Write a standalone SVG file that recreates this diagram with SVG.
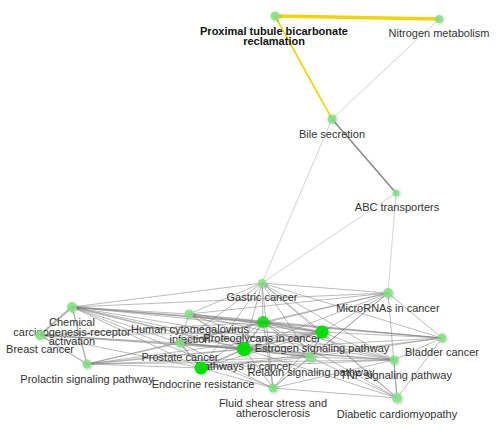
<svg xmlns="http://www.w3.org/2000/svg" width="501" height="437" viewBox="0 0 501 437">
<style>
text{font-family:"Liberation Sans",Arial,sans-serif;font-size:11px;fill:#333;text-anchor:middle}
.b{font-weight:bold;fill:#111}
.e{stroke:#808080;stroke-opacity:.6;fill:none}
.e1{stroke-width:.9}
.e2{stroke-width:1.4}
.e3{stroke-width:2.1}
.lt{stroke:#d4d4d4;stroke-width:1;fill:none}
.y{stroke:#f2d400;fill:none}
.n{fill:#7fe37f;fill-opacity:.85;filter:url(#g)}
.s{fill:#00e000;filter:url(#g)}
</style>
<defs>
<filter id="g" x="-1" y="-1" width="3" height="3"><feGaussianBlur in="SourceAlpha" stdDeviation="1.5"/><feOffset dx="1" dy="1"/><feComponentTransfer><feFuncA type="linear" slope="0.25"/></feComponentTransfer><feMerge><feMergeNode/><feMergeNode in="SourceGraphic"/></feMerge></filter>
</defs>
<rect width="501" height="437" fill="#fff"/>
<g id="connectors">
<line class="y" x1="275" y1="16" x2="439" y2="19" stroke-width="3.5"/>
<line class="y" x1="275" y1="16" x2="332" y2="119" stroke-width="1.6"/>
<line class="lt" x1="439" y1="19" x2="332" y2="119"/>
<line x1="332" y1="119" x2="396" y2="193" stroke="#8c8c8c" stroke-width="1.6"/>
<line class="lt" x1="332" y1="119" x2="262" y2="283"/>
<line class="lt" x1="396" y1="193" x2="262" y2="283"/>
<line class="lt" x1="396" y1="193" x2="388" y2="293"/>
<g class="e e1">
<line x1="262" y1="283" x2="388" y2="293"/>
<line x1="262" y1="283" x2="72" y2="307"/>
<line x1="262" y1="283" x2="189" y2="314"/>
<line x1="262" y1="283" x2="263" y2="322"/>
<line x1="262" y1="283" x2="322" y2="332"/>
<line x1="262" y1="283" x2="244" y2="349"/>
<line x1="262" y1="283" x2="201" y2="368"/>
<line x1="262" y1="283" x2="180" y2="343"/>
<line x1="262" y1="283" x2="442" y2="338"/>
<line x1="262" y1="283" x2="310" y2="357"/>
<line x1="262" y1="283" x2="273" y2="388"/>
<line x1="262" y1="283" x2="394" y2="360"/>
<line x1="262" y1="283" x2="397" y2="398"/>
<line x1="388" y1="293" x2="72" y2="307"/>
<line x1="388" y1="293" x2="263" y2="322"/>
<line x1="388" y1="293" x2="322" y2="332"/>
<line x1="388" y1="293" x2="244" y2="349"/>
<line x1="388" y1="293" x2="442" y2="338"/>
<line x1="388" y1="293" x2="397" y2="398"/>
<line x1="388" y1="293" x2="310" y2="357"/>
<line x1="388" y1="293" x2="180" y2="343"/>
<line x1="388" y1="293" x2="273" y2="388"/>
<line x1="388" y1="293" x2="189" y2="314"/>
<line x1="72" y1="307" x2="189" y2="314"/>
<line x1="72" y1="307" x2="322" y2="332"/>
<line x1="72" y1="307" x2="201" y2="368"/>
<line x1="72" y1="307" x2="180" y2="343"/>
<line x1="72" y1="307" x2="442" y2="338"/>
<line x1="72" y1="307" x2="310" y2="357"/>
<line x1="72" y1="307" x2="394" y2="360"/>
<line x1="72" y1="307" x2="273" y2="388"/>
<line x1="40" y1="335" x2="263" y2="322"/>
<line x1="40" y1="335" x2="322" y2="332"/>
<line x1="40" y1="335" x2="201" y2="368"/>
<line x1="40" y1="335" x2="180" y2="343"/>
<line x1="87" y1="364" x2="322" y2="332"/>
<line x1="87" y1="364" x2="201" y2="368"/>
<line x1="87" y1="364" x2="180" y2="343"/>
<line x1="87" y1="364" x2="263" y2="322"/>
<line x1="87" y1="364" x2="310" y2="357"/>
<line x1="87" y1="364" x2="394" y2="360"/>
<line x1="189" y1="314" x2="263" y2="322"/>
<line x1="189" y1="314" x2="322" y2="332"/>
<line x1="189" y1="314" x2="180" y2="343"/>
<line x1="189" y1="314" x2="310" y2="357"/>
<line x1="189" y1="314" x2="394" y2="360"/>
<line x1="189" y1="314" x2="442" y2="338"/>
<line x1="180" y1="343" x2="263" y2="322"/>
<line x1="180" y1="343" x2="322" y2="332"/>
<line x1="180" y1="343" x2="310" y2="357"/>
<line x1="180" y1="343" x2="273" y2="388"/>
<line x1="180" y1="343" x2="394" y2="360"/>
<line x1="263" y1="322" x2="442" y2="338"/>
<line x1="263" y1="322" x2="310" y2="357"/>
<line x1="263" y1="322" x2="394" y2="360"/>
<line x1="263" y1="322" x2="273" y2="388"/>
<line x1="263" y1="322" x2="397" y2="398"/>
<line x1="263" y1="322" x2="201" y2="368"/>
<line x1="322" y1="332" x2="442" y2="338"/>
<line x1="322" y1="332" x2="394" y2="360"/>
<line x1="322" y1="332" x2="273" y2="388"/>
<line x1="322" y1="332" x2="397" y2="398"/>
<line x1="322" y1="332" x2="201" y2="368"/>
<line x1="244" y1="349" x2="442" y2="338"/>
<line x1="244" y1="349" x2="394" y2="360"/>
<line x1="244" y1="349" x2="273" y2="388"/>
<line x1="244" y1="349" x2="397" y2="398"/>
<line x1="201" y1="368" x2="310" y2="357"/>
<line x1="201" y1="368" x2="273" y2="388"/>
<line x1="201" y1="368" x2="442" y2="338"/>
<line x1="201" y1="368" x2="394" y2="360"/>
<line x1="310" y1="357" x2="273" y2="388"/>
<line x1="310" y1="357" x2="397" y2="398"/>
<line x1="310" y1="357" x2="394" y2="360"/>
<line x1="310" y1="357" x2="442" y2="338"/>
<line x1="442" y1="338" x2="394" y2="360"/>
<line x1="442" y1="338" x2="397" y2="398"/>
<line x1="394" y1="360" x2="397" y2="398"/>
<line x1="394" y1="360" x2="273" y2="388"/>
<line x1="273" y1="388" x2="397" y2="398"/>
</g>
<g class="e e2">
<line x1="72" y1="307" x2="263" y2="322"/>
<line x1="72" y1="307" x2="244" y2="349"/>
<line x1="72" y1="307" x2="87" y2="364"/>
<line x1="40" y1="335" x2="244" y2="349"/>
<line x1="40" y1="335" x2="87" y2="364"/>
<line x1="87" y1="364" x2="244" y2="349"/>
<line x1="189" y1="314" x2="244" y2="349"/>
<line x1="180" y1="343" x2="244" y2="349"/>
<line x1="180" y1="343" x2="201" y2="368"/>
<line x1="263" y1="322" x2="244" y2="349"/>
<line x1="201" y1="368" x2="244" y2="349"/>
<line x1="244" y1="349" x2="310" y2="357"/>
<line x1="322" y1="332" x2="310" y2="357"/>
</g>
<g class="e e3">
<line x1="72" y1="307" x2="40" y2="335"/>
<line x1="263" y1="322" x2="322" y2="332"/>
<line x1="244" y1="349" x2="322" y2="332"/>
</g>
</g>
<g id="n-proximal"><circle class="n" cx="275" cy="16" r="4.5"/><text class="b" x="274" y="35">Proximal tubule bicarbonate</text><text class="b" x="274" y="45">reclamation</text></g>
<g id="n-nitrogen"><circle class="n" cx="439" cy="19" r="4"/><text x="439" y="37">Nitrogen metabolism</text></g>
<g id="n-bile"><circle class="n" cx="332" cy="119" r="4.5"/><text x="332" y="138">Bile secretion</text></g>
<g id="n-abc"><circle class="n" cx="396" cy="193" r="3.5"/><text x="397" y="211">ABC transporters</text></g>
<g id="n-gastric"><circle class="n" cx="262" cy="283" r="4"/><text x="262" y="301">Gastric cancer</text></g>
<g id="n-mirna"><circle class="n" cx="388" cy="293" r="5"/><text x="388" y="312">MicroRNAs in cancer</text></g>
<g id="n-chemical"><circle class="n" cx="72" cy="307" r="5"/><text x="72" y="326">Chemical</text><text x="72" y="336">carcinogenesis-receptor</text><text x="72" y="345">activation</text></g>
<g id="n-breast"><circle class="n" cx="40" cy="335" r="5"/><text x="40" y="353">Breast cancer</text></g>
<g id="n-prolactin"><circle class="n" cx="87" cy="364" r="4.5"/><text x="87" y="383">Prolactin signaling pathway</text></g>
<g id="n-hcmv"><circle class="n" cx="189" cy="314" r="4.5"/><text x="190" y="333">Human cytomegalovirus</text><text x="190" y="343">infection</text></g>
<g id="n-prostate"><circle class="n" cx="180" cy="343" r="4.5"/><text x="180" y="361">Prostate cancer</text></g>
<g id="n-proteoglycans"><circle class="s" cx="263" cy="322" r="6" fill-opacity=".8"/><text x="262" y="342">Proteoglycans in cancer</text></g>
<g id="n-estrogen"><circle class="s" cx="322" cy="332" r="6.5"/><text x="322" y="352">Estrogen signaling pathway</text></g>
<g id="n-pathways"><circle class="s" cx="244" cy="349" r="7"/><text x="244" y="370">Pathways in cancer</text></g>
<g id="n-endocrine"><circle class="s" cx="201" cy="368" r="6.5"/><text x="203" y="388">Endocrine resistance</text></g>
<g id="n-relaxin"><circle class="n" cx="310" cy="357" r="5"/><text x="311" y="376">Relaxin signaling pathway</text></g>
<g id="n-bladder"><circle class="n" cx="442" cy="338" r="4.5"/><text x="442" y="356">Bladder cancer</text></g>
<g id="n-tnf"><circle class="n" cx="394" cy="360" r="4.5"/><text x="396" y="379">TNF signaling pathway</text></g>
<g id="n-fluid"><circle class="n" cx="273" cy="388" r="4.5"/><text x="273" y="407">Fluid shear stress and</text><text x="273" y="417">atherosclerosis</text></g>
<g id="n-diabetic"><circle class="n" cx="397" cy="398" r="5"/><text x="397" y="418">Diabetic cardiomyopathy</text></g>
</svg>
